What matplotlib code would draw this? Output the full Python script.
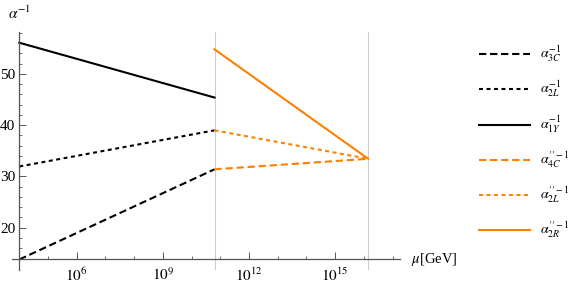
import numpy as np
import matplotlib
matplotlib.use("Agg")
import matplotlib.pyplot as plt
from matplotlib.ticker import FixedLocator, NullFormatter

plt.rcParams['font.family'] = 'serif'
plt.rcParams['font.serif'] = ['Liberation Serif', 'DejaVu Serif']
plt.rcParams['mathtext.fontset'] = 'stix'

# scales (GeV)
mu_low = [1e4, 10**10.8]
mu_high = [10**10.8, 10**16.15]

# couplings below the intermediate scale
a3C = [13.8, 31.4]
a2L = [31.95, 39.0]
a1Y = [56.1, 45.4]

# couplings above the intermediate scale
a4C_pp = [31.4, 33.45]
a2L_pp = [39.0, 33.45]
a2R_pp = [54.8, 33.45]

grid_x = [10**10.8, 10**16.15]
xticks = [1e6, 1e9, 1e12, 1e15]
xticklabels = [r'$10^{6}$', r'$10^{9}$', r'$10^{12}$', r'$10^{15}$']
yticks = [20, 30, 40, 50]

orange = '#ff8000'
lw = 1.5

fig = plt.figure(figsize=(5.81, 2.87), dpi=100)
ax = fig.add_axes([11.7 / 581, 17 / 287, 388.3 / 581, 238.3 / 287])
ax.set_xscale('log')
ax.set_xlim(10**3.735, 10**17.26)
ax.set_ylim(11.75, 58.25)

for gx in grid_x:
    ax.axvline(gx, color='#cccccc', lw=0.8, zorder=0)

ax.plot(mu_low, a3C, color='black', lw=lw, dashes=(3.5, 1.8), label=r'$\alpha_{3C}^{-1}$')
ax.plot(mu_low, a2L, color='black', lw=lw, dashes=(1.9, 1.7), label=r'$\alpha_{2L}^{-1}$')
ax.plot(mu_low, a1Y, color='black', lw=lw, label=r'$\alpha_{1Y}^{-1}$')
ax.plot(mu_high, a4C_pp, color=orange, lw=lw, dashes=(3.5, 1.8), label=r'$\alpha_{4C}^{\prime\prime-1}$')
ax.plot(mu_high, a2L_pp, color=orange, lw=lw, dashes=(1.9, 1.7), label=r'$\alpha_{2L}^{\prime\prime-1}$')
ax.plot(mu_high, a2R_pp, color=orange, lw=lw, label=r'$\alpha_{2R}^{\prime\prime-1}$')

# Mathematica-like axes crossing at (1e4, 13.8)
for s in ['top', 'right']:
    ax.spines[s].set_visible(False)
ax.spines['left'].set_position(('data', 1e4))
ax.spines['bottom'].set_position(('data', 13.8))
for s in ['left', 'bottom']:
    ax.spines[s].set_color('#555555')
    ax.spines[s].set_linewidth(0.9)

ax.xaxis.set_major_locator(FixedLocator(xticks))
ax.set_xticklabels(xticklabels)
ax.xaxis.set_minor_locator(FixedLocator([10.0**k for k in range(4, 18)]))
ax.xaxis.set_minor_formatter(NullFormatter())
ax.yaxis.set_major_locator(FixedLocator(yticks))
ax.yaxis.set_minor_locator(FixedLocator(list(range(14, 59, 2))))
ax.tick_params(which='major', direction='in', length=5, width=0.7, color='#555555',
               labelsize=11, pad=3)
ax.tick_params(which='minor', direction='in', length=2.5, width=0.6, color='#555555')
ax.tick_params(axis='x', which='major', pad=5)

fig.text(8 / 581, 1 - 13 / 287, r'$\alpha^{-1}$', fontsize=11, ha='left', va='center')
fig.text(411 / 581, 1 - 260 / 287, r'$\mu$[GeV]', fontsize=10.5, ha='left', va='center')

fig.legend(loc='upper left', bbox_to_anchor=(479 / 581, 1 - 44 / 287), frameon=False,
           fontsize=10, handlelength=3.65, handletextpad=0.72, labelspacing=1.05,
           borderpad=0, borderaxespad=0)

fig.savefig('out.png', dpi=100)
